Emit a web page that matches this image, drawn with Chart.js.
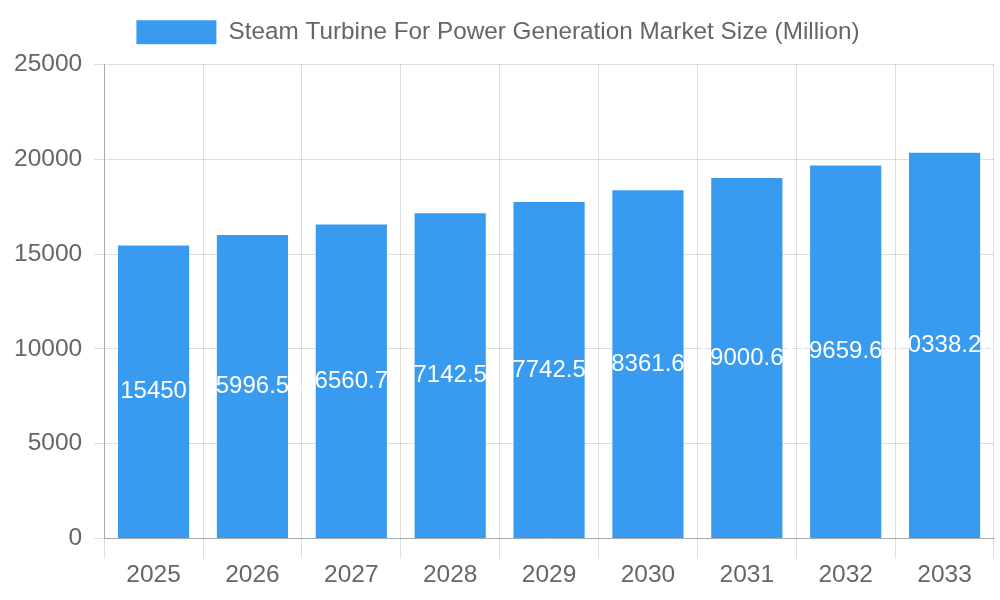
<!DOCTYPE html>
<html>
<head>
<meta charset="utf-8">
<script src="https://cdn.jsdelivr.net/npm/chart.js@4/dist/chart.umd.min.js"></script>
<style>
  html, body { margin: 0; padding: 0; background: #fff; }
  #wrap { width: 1000px; height: 600px; }
</style>
</head>
<body>
<div id="wrap"><canvas id="chart"></canvas></div>
<script>
// chart data
const years  = ['2025', '2026', '2027', '2028', '2029', '2030', '2031', '2032', '2033'];
const market = [15450, 15996.54, 16560.72, 17142.53, 17742.52, 18361.64, 19000.63, 19659.64, 20338.26];
const yTicks = [0, 5000, 10000, 15000, 20000, 25000];

const barColor  = 'rgb(57,155,240)';
const textColor = '#666';
const gridColor = 'rgba(0,0,0,0.13)';

// white value label in the middle of each bar
const midLabels = {
  id: 'midLabels',
  afterDatasetsDraw(chart) {
    const ctx = chart.ctx;
    const meta = chart.getDatasetMeta(0);
    ctx.save();
    ctx.fillStyle = '#fff';
    ctx.font = '24px "Liberation Sans", Arial, sans-serif';
    ctx.textAlign = 'center';
    ctx.textBaseline = 'middle';
    meta.data.forEach((bar, i) => {
      const y = (bar.y + bar.base) / 2;
      ctx.fillText(String(market[i]), bar.x, y);
    });
    ctx.restore();
  }
};

// a bit more room under the legend
const legendGap = {
  id: 'legendGap',
  beforeInit(chart) {
    const fit = chart.legend.fit;
    chart.legend.fit = function () {
      fit.call(this);
      this.height += 10;
    };
  }
};

Chart.defaults.font.family = '"Liberation Sans", Arial, sans-serif';
Chart.defaults.color = textColor;

new Chart(document.getElementById('chart').getContext('2d'), {
  type: 'bar',
  data: {
    labels: years,
    datasets: [{
      label: 'Steam Turbine For Power Generation Market Size (Million)',
      data: market,
      backgroundColor: barColor,
      borderWidth: 0
    }]
  },
  options: {
    responsive: true,
    maintainAspectRatio: false,
    animation: false,
    layout: { padding: { left: 2, right: 6, top: 0, bottom: 8 } },
    plugins: {
      legend: {
        position: 'top',
        labels: { boxWidth: 80, boxHeight: 24, font: { size: 24.3 }, color: textColor, padding: 20 }
      },
      tooltip: { enabled: false }
    },
    scales: {
      x: {
        grid: { color: gridColor, offset: true, tickLength: 20 },
        border: { color: '#aaa' },
        ticks: { font: { size: 24.5 }, color: textColor, padding: 2 }
      },
      y: {
        min: 0,
        max: 25000,
        afterBuildTicks: axis => { axis.ticks = yTicks.map(v => ({ value: v })); },
        grid: { color: gridColor, tickLength: 10 },
        border: { color: '#aaa' },
        ticks: { font: { size: 24.5 }, color: textColor, padding: 12, callback: v => String(v) }
      }
    }
  },
  plugins: [midLabels, legendGap]
});
</script>
</body>
</html>
